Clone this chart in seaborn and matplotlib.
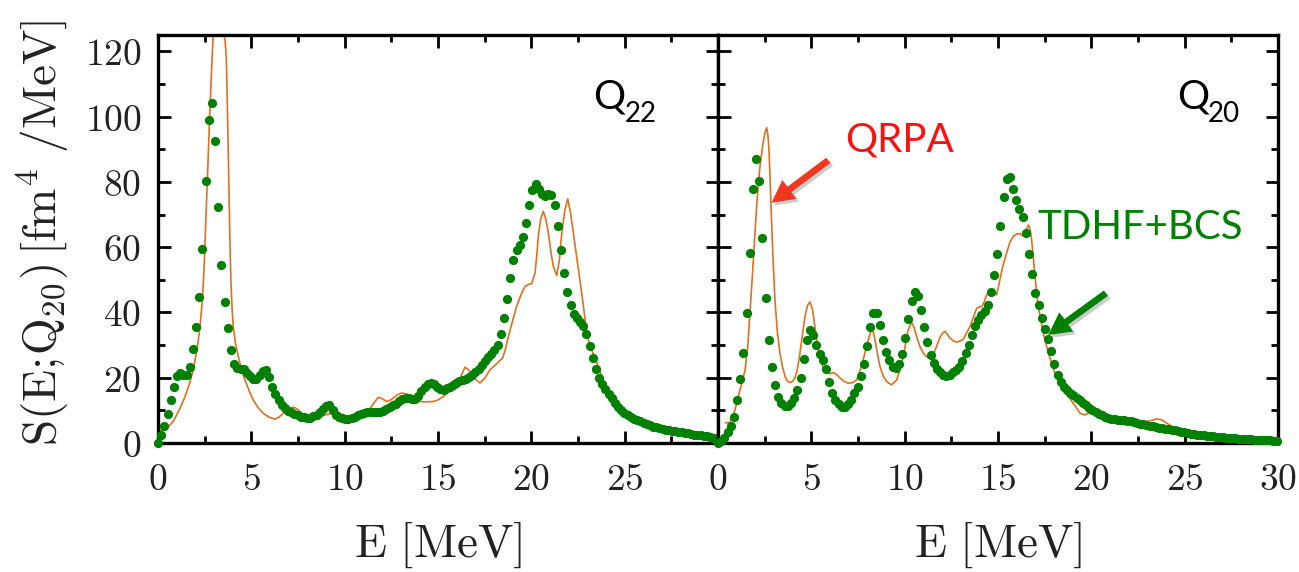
import numpy as np
import matplotlib
matplotlib.use("Agg")
import matplotlib.pyplot as plt
import matplotlib.patheffects as pe
from matplotlib.ticker import MultipleLocator, FuncFormatter
import seaborn as sns

# ---------------------------------------------------------------------------
# Strength functions S(E) [fm^4/MeV]
# TDHF+BCS: sampled on a uniform energy grid (step 0.17 MeV)
# QRPA: smoothed response, given at its own energies
# ---------------------------------------------------------------------------
dE = 0.17

q22_tdhf = [
    0, 2.5, 5.2, 8.8, 13.2, 17.3, 20.4, 21.4, 20.7, 20.7, 23.4, 28.8, 35.5, 44.6,
    59.4, 80.2, 98.9, 104.2, 92.5, 72.2, 54.4, 43.1, 35.1, 28.5, 24.1, 23.1,
    22.8, 22.6, 21.5, 20.5, 19.5, 19.6, 20.9, 22.2, 22.4, 20.1, 17.3, 14.9, 13.2,
    11.7, 10.6, 9.9, 9.4, 9.0, 8.5, 8.1, 7.9, 7.7, 7.8, 8.2, 8.7,
    9.6, 10.5, 11.4, 11.6, 10.0, 8.7, 8.0, 7.6, 7.3, 7.3, 7.6, 8.0, 8.5, 8.9,
    9.2, 9.5, 9.5, 9.4, 9.4, 9.5, 9.9, 10.5, 11.1, 11.5, 12.1,
    12.8, 13.4, 13.8, 13.8, 13.5, 13.6, 14.5, 15.9, 17.2, 18.2, 18.5, 18.0, 17.2,
    16.6, 16.3, 16.7, 17.3, 17.8, 18.3, 19.0, 19.3, 19.6, 20.1, 20.9, 21.6, 22.6,
    23.9, 25.0, 26.2, 27.4, 28.6, 30.0,
    33.5, 38.3, 44.2, 50.7, 56.0, 59.0, 60.8, 63.1, 67.4, 72.8, 77.4, 79.4, 77.9,
    76.4, 75.6, 76.4, 76.1, 72.8, 66.6, 59.2, 52.1, 46.4, 42.3, 39.6, 38.3, 37.2,
    35.9, 33.4, 29.6, 26.0, 22.7, 20.0, 18.0,
    16.5, 15.0, 13.7, 12.4, 11.0, 10.0, 9.3, 8.6, 8.0, 7.5, 7.0, 6.6, 6.2, 5.8,
    5.4, 5.0, 4.8, 4.5, 4.3, 4.1, 4.0, 3.8, 3.6, 3.4, 3.3, 3.1, 3.0, 2.8, 2.6,
    2.5, 2.3, 2.2, 2.0, 1.8, 1.6, 1.4,
]

q20_tdhf = [
    0, 0.6,
    1.4, 3.3, 5.3, 8.1, 13.2, 19.6, 27.5, 39.8, 58.2, 77.7,
    87.1, 80.4, 62.8, 44.4, 31.6, 23.4, 17.8, 14.2, 12.2, 11.4,
    11.4, 12.2, 13.7, 16.1, 19.9, 25.7, 31.6, 34.7, 33.1, 29.9,
    27.3, 25.3, 22.6, 18.8, 15.4, 13.2, 11.9, 11.1, 11.1, 12.0,
    13.2, 15.3, 17.3, 20.6, 24.2, 29.6, 35.4, 39.8, 39.8, 36.2,
    31.6, 27.8, 25.3, 23.4, 22.9, 24.2, 27.3, 32.1, 38.1, 43.4,
    46.3, 45.1, 40.8, 35.4, 30.8, 27.0, 24.5, 22.6, 21.6, 20.9,
    20.6, 20.9, 21.6, 22.4, 23.4, 25.0, 27.5, 30.1, 33.1, 35.7,
    37.8, 39.3, 40.3, 42.4, 46.4, 51.6, 58.0, 66.6, 75.4, 81.0,
    81.5, 77.9, 74.4, 71.7, 69.2, 64.4, 57.9, 51.9, 46.1, 42.4,
    38.3, 34.9, 31.8, 28.3, 24.2, 20.9, 18.8,
    17.2, 16.2, 15.4, 14.6, 13.8, 13.1, 12.3, 11.5, 10.8, 10.1,
    9.5, 9.0, 8.5, 8.1, 7.7, 7.4, 7.2, 7.1, 7.0, 6.9,
    6.8, 6.6, 6.3, 6.1, 5.9, 5.7, 5.5, 5.3, 5.1, 4.9,
    4.7, 4.5, 4.4, 4.2, 4.0, 3.9, 3.7, 3.5, 3.3, 3.1,
    2.9, 2.7, 2.5, 2.4, 2.3, 2.2, 2.1, 2.0, 1.9, 1.8,
    1.7, 1.6, 1.5, 1.4, 1.4, 1.3, 1.3, 1.2, 1.2, 1.1,
    1.0, 1.0, 0.9, 0.9, 0.8, 0.8, 0.7, 0.7,
]

e_tdhf = np.round(dE * np.arange(len(q22_tdhf)), 2)

q22_qrpa_e = [
    0.0, 0.3, 0.55, 0.8, 1.0, 1.25, 1.45, 1.7, 1.89, 2.1,
    2.25, 2.35, 2.43, 2.5, 2.57, 2.64, 2.7, 2.76, 2.82, 2.89,
    2.96, 3.1, 3.25, 3.4, 3.5, 3.6, 3.66, 3.71, 3.76, 3.81,
    3.86, 3.91, 3.97, 4.03, 4.15, 4.3, 4.5, 4.66, 4.9, 5.1,
    5.35, 5.64, 5.95, 6.27, 6.5, 6.71, 6.95, 7.16, 7.35, 7.52,
    7.8, 8.14, 8.4, 8.68, 8.95, 9.21, 9.5, 9.75, 10.2, 10.64,
    11.0, 11.36, 11.6, 11.8, 12.0, 12.25, 12.5, 12.8, 13.05, 13.35,
    13.68, 13.86, 14.2, 14.75, 15.0, 15.28, 15.64, 16.0, 16.2, 16.44,
    16.6, 16.8, 17.0, 17.25, 17.5, 17.78, 18.05, 18.32, 18.46, 18.6,
    18.77, 19.0, 19.21, 19.45, 19.66, 19.85, 20.02, 20.2, 20.3, 20.37,
    20.5, 20.64, 20.78, 20.91, 21.05, 21.18, 21.36, 21.5, 21.63, 21.8,
    21.95, 22.1, 22.25, 22.43, 22.6, 22.8, 22.96, 23.1, 23.3, 23.55,
    23.77, 24.0, 24.2, 24.5, 24.75, 25.1, 25.46, 25.8, 26.2, 26.7,
    27.4, 28.3, 29.2, 30.0,
]
q22_qrpa_s = [
    3.5, 4.2, 5.0, 6.5, 8.6, 11.5, 14.2, 18.5, 22.4, 29.0,
    35.7, 42.0, 49.0, 58.0, 69.5, 80.0, 89.9, 99.0, 107.3, 117.0,
    125.2, 142.0, 148.0, 138.0, 126.0, 123.0, 118.0, 105.0, 90.0, 74.0,
    60.0, 49.0, 41.0, 35.7, 30.5, 26.5, 22.0, 19.3, 15.8, 13.2,
    10.9, 9.1, 7.9, 7.3, 8.0, 9.1, 10.3, 10.9, 10.8, 10.1,
    8.5, 6.8, 7.2, 7.9, 8.6, 9.0, 8.5, 7.9, 7.9, 8.1,
    8.9, 10.6, 12.5, 14.0, 13.6, 12.7, 13.3, 14.7, 15.3, 15.0,
    14.0, 13.0, 12.6, 12.7, 13.2, 14.2, 16.2, 17.8, 20.0, 23.2,
    22.6, 21.4, 19.5, 18.4, 19.8, 22.4, 23.8, 25.3, 26.0, 28.5,
    32.6, 37.5, 41.8, 45.5, 48.0, 48.6, 48.8, 52.1, 58.0, 63.3,
    68.5, 71.0, 68.5, 64.4, 58.5, 54.1, 51.3, 56.0, 64.4, 71.5,
    74.8, 70.5, 64.4, 57.0, 50.0, 41.5, 34.2, 30.5, 27.5, 24.0,
    20.4, 17.0, 14.2, 11.2, 9.1, 7.9, 7.1, 6.5, 5.7, 4.8,
    4.0, 3.0, 2.2, 1.4,
]

q20_qrpa_e = [
    0.4, 0.64, 0.91, 1.18, 1.35, 1.45, 1.6, 1.71, 1.85, 1.98,
    2.1, 2.25, 2.4, 2.52, 2.61, 2.68, 2.73, 2.79, 2.84, 2.95,
    3.05, 3.18, 3.32, 3.45, 3.59, 3.73, 3.86, 4.0, 4.12, 4.25,
    4.39, 4.52, 4.66, 4.8, 4.93, 5.06, 5.19, 5.32, 5.46, 5.6,
    5.73, 6.0, 6.18, 6.35, 6.54, 6.75, 6.98, 7.2, 7.43, 7.6,
    7.78, 7.92, 8.05, 8.15, 8.23, 8.32, 8.41, 8.55, 8.68, 8.85,
    9.04, 9.3, 9.57, 9.75, 9.93, 10.06, 10.19, 10.37, 10.5, 10.64,
    10.82, 11.0, 11.18, 11.36, 11.55, 11.71, 11.9, 12.05, 12.16, 12.3,
    12.43, 12.6, 12.79, 12.95, 13.14, 13.3, 13.5, 13.7, 13.86, 14.0,
    14.14, 14.28, 14.39, 14.55, 14.66, 14.8, 14.93, 15.1, 15.25, 15.46,
    15.64, 15.82, 16.0, 16.18, 16.3, 16.45, 16.63, 16.72, 16.8, 16.9,
    16.98, 17.08, 17.16, 17.3, 17.43, 17.7, 18.05, 18.5, 19.03, 19.4,
    19.64, 19.9, 20.35, 20.6, 20.89, 21.4, 22.0, 22.5, 22.9, 23.2,
    23.54, 23.8, 24.0, 24.2, 24.4, 24.7, 25.3, 26.0, 26.5, 27.5,
    28.3, 29.0, 30.0,
]
q20_qrpa_s = [
    6.2, 6.2, 10.1, 16.3, 20.0, 22.4, 30.0, 39.8, 52.0, 64.4,
    75.0, 84.8, 91.5, 95.1, 96.6, 94.0, 89.9, 81.0, 72.5, 56.0,
    43.9, 34.0, 27.5, 23.5, 20.4, 18.9, 18.5, 18.9, 19.9, 22.5,
    27.5, 33.0, 38.8, 42.2, 43.2, 41.0, 35.7, 30.5, 26.5, 23.5,
    21.9, 21.2, 21.6, 21.0, 19.9, 18.9, 18.3, 18.5, 19.3, 22.0,
    25.5, 28.8, 31.6, 33.6, 34.7, 34.0, 31.6, 27.0, 23.4, 20.5,
    18.8, 17.8, 19.3, 22.5, 26.5, 30.8, 34.7, 37.0, 35.5, 32.6,
    29.5, 27.5, 26.4, 26.0, 27.3, 29.6, 32.5, 33.8, 34.2, 33.2,
    32.1, 31.3, 30.9, 31.2, 31.8, 33.5, 35.7, 38.8, 41.3, 41.7,
    41.8, 43.5, 45.4, 46.3, 46.4, 45.8, 45.4, 50.0, 54.0, 58.2,
    61.5, 63.3, 64.0, 64.2, 63.5, 64.5, 66.8, 65.5, 62.3, 56.5,
    51.0, 46.0, 41.8, 37.5, 33.7, 27.5, 21.4, 16.3, 12.2, 9.1,
    8.6, 9.2, 10.1, 9.3, 8.1, 7.6, 7.3, 6.9, 6.5, 6.9,
    7.4, 7.0, 6.2, 5.5, 4.5, 4.0, 3.0, 2.3, 2.1, 1.5,
    1.2, 0.95, 0.7,
]

panel_names = ["22", "20"]

# ---------------------------------------------------------------------------
ORANGE = "#E0701F"
GREEN = "#008000"
RED_TXT = "#FF1010"
RED_ARROW = "#F5361F"
SANS = ["Lato", "DejaVu Sans"]
INK = "#222222"

sns.set_theme(style="ticks")
plt.rcParams["font.family"] = ["DejaVu Sans"]
plt.rcParams["mathtext.fontset"] = "cm"

W, H = 1299, 572
fig = plt.figure(figsize=(W / 100, H / 100), dpi=100)
fig.patch.set_facecolor("white")

bottom = (H - 443) / H
height = 408 / H
ax1 = fig.add_axes([158 / W, bottom, 560 / W, height])
ax2 = fig.add_axes([718 / W, bottom, 560 / W, height])

series = [
    (ax1, q22_qrpa_e, q22_qrpa_s, q22_tdhf),
    (ax2, q20_qrpa_e, q20_qrpa_s, q20_tdhf),
]

for ax, qe, qs, td in series:
    sns.lineplot(x=qe, y=qs, ax=ax, color=ORANGE, linewidth=1.2,
                 estimator=None, sort=False, zorder=2)
    sns.scatterplot(x=e_tdhf, y=td, ax=ax, color=GREEN, s=44, linewidth=0,
                    zorder=4, clip_on=False)
    ax.set_xlim(0, 30)
    ax.set_ylim(0, 125)
    ax.set_facecolor("white")
    ax.xaxis.set_major_locator(MultipleLocator(5))
    ax.xaxis.set_minor_locator(MultipleLocator(2.5))
    ax.yaxis.set_major_locator(MultipleLocator(20))
    ax.yaxis.set_minor_locator(MultipleLocator(10))
    ax.tick_params(which="both", direction="in", top=True, right=True,
                   color="black", width=2.0, labelsize=27, pad=12)
    ax.tick_params(axis="x", pad=14)
    ax.tick_params(which="major", length=9)
    ax.tick_params(which="minor", length=5)
    for sp in ax.spines.values():
        sp.set_linewidth(2.4)
        sp.set_color("black")
        sp.set_visible(True)
    ax.set_xlabel(r"$\mathrm{E\ [MeV]}$", fontsize=34, color=INK, va="center")
    ax.xaxis.set_label_coords(0.5, -0.25)

ax1.xaxis.set_major_formatter(FuncFormatter(lambda v, p: "" if v >= 30 else f"${v:g}$"))
ax2.xaxis.set_major_formatter(FuncFormatter(lambda v, p: f"${v:g}$"))
ax1.yaxis.set_major_formatter(FuncFormatter(lambda v, p: f"${v:g}$"))
ax2.tick_params(axis="y", labelleft=False)
for ax in (ax1, ax2):
    for lab in ax.get_xticklabels() + ax.get_yticklabels():
        lab.set_color(INK)

ax1.set_ylabel(r"$\mathrm{S(E;\!Q_{20})\,[fm^{4}\ /MeV]}$", fontsize=34,
               color=INK, va="center")
ax1.yaxis.set_label_coords(-0.205, 0.515)

# panel titles Q_22 / Q_20
for ax, sub, xq, xs in [(ax1, panel_names[0], 23.3, 25.0), (ax2, panel_names[1], 24.6, 26.25)]:
    ax.text(xq, 102.5, "Q", fontsize=29, family=SANS, color="black",
            ha="left", va="baseline")
    ax.text(xs, 98.3, sub, fontsize=20, family=SANS, color="black",
            ha="left", va="baseline")

# method labels with arrows
ax2.text(6.8, 89.3, "QRPA", fontsize=29, family=SANS, color=RED_TXT,
         ha="left", va="baseline")
ax2.text(17.1, 62.6, "TDHF+BCS", fontsize=29, family=SANS, color=GREEN,
         ha="left", va="baseline")

shadow = [pe.SimplePatchShadow(offset=(2, -2), alpha=0.3, shadow_rgbFace="#555555"),
          pe.Normal()]
for tail, head, col in [((5.91, 86.6), (2.87, 73.6), RED_ARROW),
                        ((20.78, 45.9), (17.69, 33.1), GREEN)]:
    ann = ax2.annotate("", xy=head, xytext=tail,
                       arrowprops=dict(arrowstyle="simple,head_length=0.8,head_width=0.85,tail_width=0.24",
                                       mutation_scale=20, fc=col, ec="none",
                                       shrinkA=0, shrinkB=0),
                       zorder=5)
    ann.arrow_patch.set_path_effects(shadow)

fig.savefig("out.png", dpi=100, facecolor="white")
